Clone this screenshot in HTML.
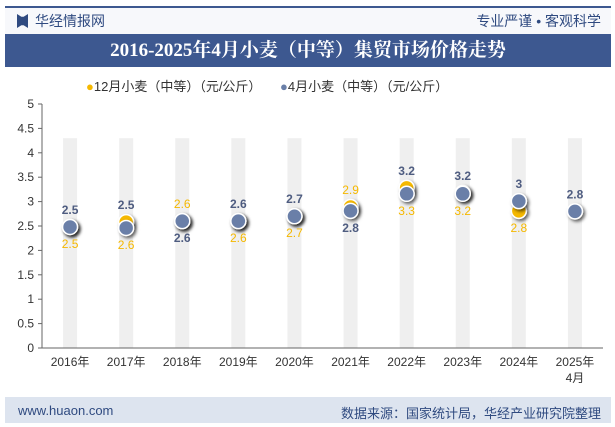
<!DOCTYPE html>
<html><head><meta charset="utf-8"><style>
body{margin:0;width:615px;height:427px;background:#fff;font-family:"Liberation Sans","Noto Sans CJK SC",sans-serif;overflow:hidden;position:relative}
.a{position:absolute}
</style></head><body>
<div class="a" style="left:5px;top:6px;width:606px;height:2px;background:#3d5890"></div>
<div class="a" style="left:5px;top:8px;width:606px;height:26px;background:#f7f8fb"></div>
<div class="a" style="left:17px;top:14px;width:11px;height:14px;background:#2f4a80;clip-path:polygon(0 0,40% 20%,60% 20%,100% 0,100% 100%,60% 80%,40% 80%,0 100%)"></div>
<div class="a" style="left:35px;top:11px;font-size:14px;color:#2f4a80">华经情报网</div>
<div class="a" style="right:14px;top:11px;font-size:14px;color:#2f4a80">专业严谨 • 客观科学</div>
<div class="a" style="left:5px;top:34px;width:606px;height:33px;background:#3d5890;color:#fff;font-size:19px;font-weight:bold;line-height:33px;text-align:center;font-family:'Liberation Serif','Noto Serif CJK SC',serif">2016-2025年4月小麦（中等）集贸市场价格走势</div>
<div class="a" style="left:86px;top:76px;font-size:13px;color:#333"><span style="color:#f5b800">●</span>12月小麦（中等）（元/公斤）</div>
<div class="a" style="left:280px;top:76px;font-size:13px;color:#333"><span style="color:#6a7fa8">●</span>4月小麦（中等）（元/公斤）</div>
<div class="a" style="left:5px;top:397px;width:606px;height:26px;background:#dde4ef"></div>
<div class="a" style="left:18px;top:403px;font-size:13px;color:#2f4a80">www.huaon.com</div>
<div class="a" style="right:14px;top:403px;font-size:13px;color:#2f4a80">数据来源：国家统计局，华经产业研究院整理</div>
<svg class="a" style="left:0;top:0" width="615" height="427" id="chart">
<defs><filter id="sh" x="-50%" y="-50%" width="200%" height="200%"><feDropShadow dx="2" dy="2" stdDeviation="1.5" flood-color="#000" flood-opacity="0.6"/></filter></defs>
</svg>
<script>
const categories=["2016年","2017年","2018年","2019年","2020年","2021年","2022年","2023年","2024年","2025年"];
const decValues=[2.48,2.58,2.6,2.6,2.7,2.89,3.28,3.18,2.81,null];
const aprValues=[2.48,2.46,2.6,2.6,2.7,2.81,3.16,3.16,3.01,2.8];
const decLabels=["2.5","2.6","2.6","2.6","2.7","2.9","3.3","3.2","2.8",""];
const aprLabels=["2.5","2.5","2.6","2.6","2.7","2.8","3.2","3.2","3","2.8"];
const decAbove=[false,false,true,false,false,true,false,false,false,false];
const yTicks=[0,0.5,1,1.5,2,2.5,3,3.5,4,4.5,5];
const svg=document.getElementById('chart');const NS='http://www.w3.org/2000/svg';
const x0=42,x1=603,yb=348,yt=104;
const X=i=>x0+(x1-x0)/categories.length*(i+0.5);
const Y=v=>yb-(yb-yt)*v/5;
function mk(t,a,txt){const e=document.createElementNS(NS,t);for(const k in a)e.setAttribute(k,a[k]);if(txt!=null)e.textContent=txt;svg.appendChild(e);return e;}
categories.forEach((c,i)=>{const e=mk('rect',{x:X(i)-7,y:Y(4.3),width:14,height:yb-Y(4.3),fill:'#efefef'});

});
let ax=mk('line',{x1:x0,y1:yt,x2:x0,y2:yb,stroke:'#666'});


let bx=mk('line',{x1:x0,y1:yb,x2:x1,y2:yb,stroke:'#666'});


yTicks.forEach(v=>{mk('line',{x1:x0-4,y1:Y(v),x2:x0,y2:Y(v),stroke:'#666'});
const t=mk('text',{x:x0-8,y:Y(v)+4,'text-anchor':'end','font-size':12,fill:'#333'},v);

});
categories.forEach((c,i)=>{const t=mk('text',{x:X(i),y:yb+18,'text-anchor':'middle','font-size':12,fill:'#333'},c);


if(i==categories.length-1){const t2=mk('text',{x:X(i),y:yb+34,'text-anchor':'middle','font-size':12,fill:'#333'},'4月');

}});
categories.forEach((c,i)=>{
if(decValues[i]!=null){const p=mk('circle',{cx:X(i),cy:Y(decValues[i]),r:7.5,fill:'#f5b800',stroke:'#fff','stroke-width':1.5,filter:'url(#sh)'});

}
const q=mk('circle',{cx:X(i),cy:Y(aprValues[i]),r:7.5,fill:'#6a7fa8',stroke:'#fff','stroke-width':1.5,filter:'url(#sh)'});

});
categories.forEach((c,i)=>{
const top=Math.min(Y(aprValues[i]),decValues[i]!=null?Y(decValues[i]):1e9),bot=Math.max(Y(aprValues[i]),decValues[i]!=null?Y(decValues[i]):0);
if(decValues[i]!=null){const yy=decAbove[i]?top-13:bot+21;
const t=mk('text',{x:X(i),y:yy,'text-anchor':'middle','font-size':12,fill:'#f5b800'},decLabels[i]);

}
const yy=decAbove[i]?bot+21:top-13;
const t=mk('text',{x:X(i),y:yy,'text-anchor':'middle','font-size':12,'font-weight':'bold',fill:'#4e5c80'},aprLabels[i]);

});
</script>
</body></html>
